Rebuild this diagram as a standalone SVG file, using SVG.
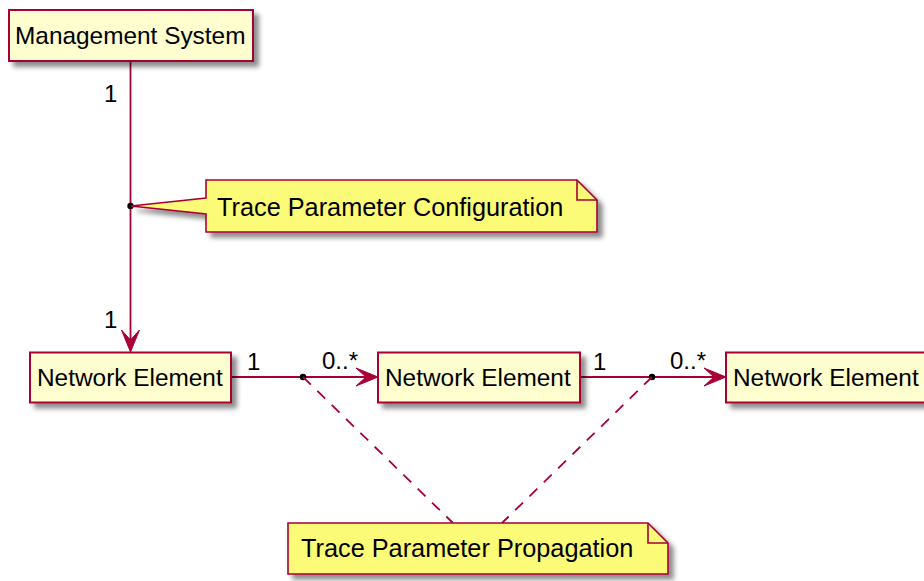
<svg xmlns="http://www.w3.org/2000/svg" width="924" height="581" viewBox="0 0 924 581">
<defs>
<filter id="sh" x="-10%" y="-20%" width="130%" height="160%">
<feGaussianBlur in="SourceAlpha" stdDeviation="2.5"/>
<feOffset dx="5" dy="5" result="b"/>
<feComponentTransfer><feFuncA type="linear" slope="0.45"/></feComponentTransfer>
<feMerge><feMergeNode/><feMergeNode in="SourceGraphic"/></feMerge>
</filter>
</defs>
<style>
.ent{fill:#FEFECE;stroke:#A80036;stroke-width:2}
.note{fill:#FBFB77;stroke:#A80036;stroke-width:1.6}
.fold{fill:none;stroke:#A80036;stroke-width:1.6}
.t{font-family:"Liberation Sans",Arial,sans-serif;font-size:24.4px;fill:#000}
.nt{font-family:"Liberation Sans",Arial,sans-serif;font-size:25.3px;fill:#000}
.lbl{font-family:"Liberation Sans",Arial,sans-serif;font-size:24px;fill:#000}
.ln{stroke:#A80036;stroke-width:1.8;fill:none}
.dash{stroke:#A80036;stroke-width:1.8;fill:none;stroke-dasharray:11,9}
.ah{fill:#A80036;stroke:#A80036;stroke-width:1}
</style>
<g id="connectors">
<line class="ln" x1="130.5" y1="61" x2="130.5" y2="350"/>
<polygon class="ah" points="130.5,352 121.5,330 130.5,340 139.5,330"/>
<text class="lbl" x="104" y="102">1</text>
<text class="lbl" x="104" y="328">1</text>
<circle cx="130.5" cy="206" r="3.2" fill="#000"/>
<line class="ln" x1="231" y1="377" x2="376" y2="377"/>
<polygon class="ah" points="378,377 356,368 366,377 356,386"/>
<text class="lbl" x="247" y="370">1</text>
<text class="lbl" x="322" y="369">0..*</text>
<circle cx="303" cy="377" r="3.2" fill="#000"/>
<line class="ln" x1="580" y1="377" x2="724" y2="377"/>
<polygon class="ah" points="726,377 704,368 714,377 704,386"/>
<text class="lbl" x="593" y="370">1</text>
<text class="lbl" x="670" y="369">0..*</text>
<circle cx="652" cy="377" r="3.2" fill="#000"/>
<line class="dash" x1="303" y1="377" x2="453" y2="523"/>
<line class="dash" x1="652" y1="377" x2="502" y2="523"/>
</g>
<g id="management-system">
<rect class="ent" x="9" y="10" width="244" height="51" filter="url(#sh)"/>
<text class="t" x="15" y="43.5">Management System</text>
</g>
<g id="network-element-1">
<rect class="ent" x="30" y="352.5" width="201" height="50" filter="url(#sh)"/>
<text class="t" x="37" y="386">Network Element</text>
</g>
<g id="network-element-2">
<rect class="ent" x="378" y="352.5" width="202" height="50" filter="url(#sh)"/>
<text class="t" x="385" y="386">Network Element</text>
</g>
<g id="network-element-3">
<rect class="ent" x="726" y="352.5" width="202" height="50" filter="url(#sh)"/>
<text class="t" x="733" y="386">Network Element</text>
</g>
<g id="note-configuration">
<path class="note" d="M206,180 L577,180 L597,200 L597,232 L206,232 L206,214 L131,206 L206,198 Z" filter="url(#sh)"/>
<path class="fold" d="M577,180 L577,200 L597,200"/>
<text class="nt" x="217" y="216">Trace Parameter Configuration</text>
</g>
<g id="note-propagation">
<path class="note" d="M288,523 L648,523 L668,543 L668,574 L288,574 Z" filter="url(#sh)"/>
<path class="fold" d="M648,523 L648,543 L668,543"/>
<text class="nt" x="301" y="557">Trace Parameter Propagation</text>
</g>
</svg>
